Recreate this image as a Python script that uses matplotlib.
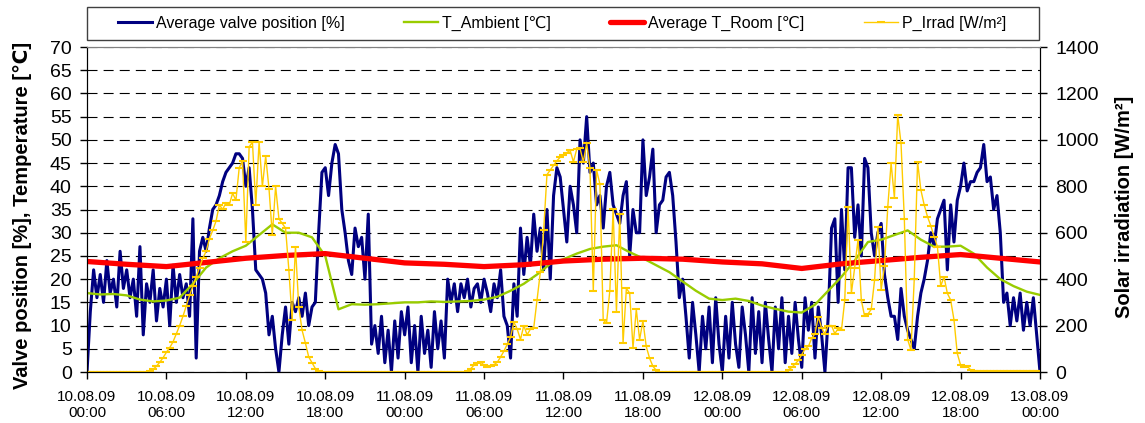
import numpy as np
import pandas as pd
import matplotlib
matplotlib.use("Agg")
import matplotlib.pyplot as plt
import matplotlib.dates as mdates
from matplotlib.patches import Rectangle

plt.rcParams['font.family'] = ['Liberation Sans', 'DejaVu Sans']

# 15 min samples, 10.08.09 00:00 .. 13.08.09 00:00
t_fine = pd.date_range("2009-08-10 00:00", "2009-08-13 00:00", freq="15min")
t_hour = pd.date_range("2009-08-10 00:00", "2009-08-13 00:00", freq="1h")
t_room = pd.date_range("2009-08-10 00:00", "2009-08-13 00:00", freq="3h")

# average valve position [%], one row per hour (4 samples)
valve_pos = [
    0, 13, 22, 16,   21, 15, 24, 17,   20, 14, 26, 18,   22, 16, 20, 12,
    27, 8, 19, 15,   22, 11, 18, 14,   20, 10, 23, 15,   21, 16, 19, 12,
    33, 3, 26, 29,   26, 31, 35, 36,   38, 41, 43, 44,   45, 47, 47, 46,
    40, 44, 35, 22,  21, 20, 17, 8,    12, 5, 0, 8,      14, 6, 15, 13,
    16, 12, 17, 10,  14, 15, 30, 43,   44, 38, 45, 49,   47, 35, 30, 24,
    21, 31, 27, 29,  20, 34, 6, 10,    4, 12, 2, 9,      0, 11, 3, 13,
    8, 14, 2, 10,    0, 12, 4, 9,      1, 13, 5, 11,     3, 20, 15, 19,
    13, 19, 16, 20,  14, 18, 19, 15,   20, 17, 13, 19,   16, 22, 12, 10,
    3, 19, 12, 31,   21, 29, 23, 34,   26, 31, 22, 35,   20, 38, 44, 42,
    35, 28, 40, 36,  30, 50, 45, 55,   43, 45, 36, 38,   31, 40, 43, 36,
    34, 32, 38, 41,  25, 35, 30, 30,   50, 38, 42, 48,   30, 36, 37, 42,
    43, 38, 28, 16,  20, 12, 3, 15,    8, 0, 12, 5,      14, 2, 16, 6,
    0, 12, 3, 15,    6, 1, 14, 8,      0, 16, 4, 13,     2, 15, 7, 0,
    14, 5, 16, 2,    12, 4, 15, 7,     1, 16, 9, 15,     3, 14, 8, 0,
    12, 31, 33, 15,  35, 22, 44, 44,   29, 36, 25, 46,   44, 30, 25, 30,
    32, 21, 16, 12,  12, 7, 18, 12,    9, 7, 5, 12,      17, 20, 24, 30,
    27, 33, 35, 37,  22, 36, 28, 37,   40, 45, 39, 41,   41, 43, 44, 49,
    41, 42, 35, 38,  30, 15, 17, 10,   16, 11, 17, 9,    15, 10, 16, 8,
    0,
]

# solar irradiation [W/m2], same 15 min samples
p_irrad = [
    0, 0, 0, 0,  0, 0, 0, 0,  0, 0, 0, 0,  0, 0, 0, 0,
    0, 0, 0, 3,  12, 25, 42, 62,  85, 105, 130, 165,  200, 240, 285, 330,
    370, 410, 450, 490,  520, 575, 610, 650,  720, 700, 730, 720,  770, 740, 880, 910,
    560, 970, 990, 720,  990, 800, 930, 790,  590, 800, 660, 640,  620, 440, 225, 540,
    280, 180, 125, 65,  40, 15, 3, 0,
    0, 0, 0, 0,  0, 0, 0, 0,  0, 0, 0, 0,  0, 0, 0, 0,  0, 0, 0, 0,
    0, 0, 0, 0,  0, 0, 0, 0,  0, 0, 0, 0,  0, 0, 0, 0,  0, 0, 0, 0,
    0, 0, 0, 5,  15, 30, 40, 42,  30, 23, 28, 32,  42, 65, 90, 120,
    150, 215, 185, 140,  200, 160, 185, 190,  310, 430, 610, 850,  870, 890, 910, 925,
    935, 945, 955, 905,  960, 963, 905, 985,  880, 350, 870, 810,  224, 210, 350, 700,
    260, 680, 125, 360,  340, 105, 270, 140,  220, 110, 60, 25,  8, 0, 0, 0,
    0, 0, 0, 0,  0, 0, 0, 0,  0, 0, 0, 0,  0, 0, 0, 0,
    0, 0, 0, 0,  0, 0, 0, 0,  0, 0, 0, 0,  0, 0, 0, 0,
    0, 0, 0, 0,  10, 20, 35, 50,  75, 100, 110, 145,  165, 238, 190, 165,
    200, 200, 165, 188,  180, 310, 712, 340,  450, 570, 310, 240,  250, 270, 395, 626,
    355, 455, 712, 900,  750, 1107, 985, 660,  140, 95, 400, 906,  784, 720, 669, 630,
    583, 540, 370, 410,  339, 310, 225, 80,  30, 22, 25, 10,  3, 4, 4, 4,
    4, 4, 4, 4,  4, 4, 4, 4,  4, 4, 4, 4,  4, 4, 4, 4,
    3,
]

# ambient temperature [C], hourly
t_ambient = [
    17.0, 16.7, 16.8, 16.5, 15.6, 15.2, 15.4, 16.0, 19.0, 22.5, 24.5, 26.0,
    27.2, 29.5, 31.8, 30.0, 30.0, 29.0, 25.0, 13.5, 14.6, 14.5, 14.6, 14.8,
    15.0, 15.0, 15.2, 15.1, 15.2, 15.3, 15.6, 16.2, 17.5, 19.0, 21.0, 23.3,
    24.3, 25.5, 26.5, 27.0, 27.3, 25.8, 24.5, 23.0, 21.5, 19.5, 17.5, 15.8,
    15.5, 15.8, 15.3, 14.3, 13.6, 13.0, 12.8, 14.5, 17.5, 20.5, 24.0, 28.0,
    28.5, 29.5, 30.5, 28.5, 27.0, 27.0, 27.2, 25.5, 22.5, 20.0, 18.5, 17.3,
    16.6,
]

# average room temperature [C], every 3 h
t_room_avg = [
    23.8, 23.2, 22.7, 23.6, 24.5, 25.1, 25.5, 24.5, 23.5, 23.2, 22.7, 23.1,
    23.9, 24.3, 24.5, 24.3, 23.7, 23.3, 22.3, 23.3, 24.0, 24.7, 25.3, 24.5,
    23.7,
]

W, H = 1145, 423
fig = plt.figure(figsize=(W / 100, H / 100), dpi=100)
ax = fig.add_axes([87 / W, 51 / H, 953 / W, 325 / H])
ax2 = ax.twinx()

l1, = ax.plot(t_fine, valve_pos, color="#000080", lw=2.2, zorder=3,
              label="Average valve position [%]")
l2, = ax.plot(t_hour, t_ambient, color="#99CC00", lw=1.7, zorder=4,
              label="T_Ambient [℃]")
l3, = ax.plot(t_room, t_room_avg, color="#FF0000", lw=3.8, zorder=5,
              solid_capstyle="round", label="Average T_Room [℃]")
l4, = ax2.plot(t_fine, p_irrad, color="#FFCC00", lw=1.0, marker="_",
               ms=6, mew=1.5, label="P_Irrad [W/m²]")

ax.set_xlim(t_fine[0], t_fine[-1])
ax.set_ylim(0, 70)
ax.set_yticks(np.arange(0, 71, 5))
ax2.set_ylim(0, 1400)
ax2.set_yticks(np.arange(0, 1401, 200))

ax.xaxis.set_major_locator(mdates.HourLocator(byhour=[0, 6, 12, 18]))
ax.xaxis.set_major_formatter(mdates.DateFormatter("%d.%m.%y\n%H:%M"))

ax.grid(axis="y", color="black", lw=0.8, linestyle=(0, (9, 5.5)))
ax.set_axisbelow(True)

ax.tick_params(axis="x", direction="out", length=5, width=1, labelsize=11, pad=8)
ax.tick_params(axis="y", direction="out", length=5, width=1, labelsize=14, pad=6)
ax2.tick_params(axis="y", direction="out", length=5, width=1, labelsize=14, pad=6)

for a in (ax, ax2):
    a.spines["top"].set_color("#808080")
    for s in ("left", "right", "bottom"):
        a.spines[s].set_color("black")

ax.set_ylabel("Valve position [%], Temperature [℃]", fontsize=14.5, fontweight="bold")
ax.yaxis.set_label_coords(-0.058, 0.483)
ax2.set_ylabel("Solar irradiation [W/m²]", fontsize=14.5, fontweight="bold", rotation=90)
ax2.yaxis.set_label_coords(1.079, 0.509)

# legend box across the top
fig.add_artist(Rectangle((87 / W, 1 - 40 / H), 952 / W, 33 / H, transform=fig.transFigure,
                         fill=False, edgecolor="#404040", lw=1))
fig.legend([l1, l2, l3, l4], [l.get_label() for l in (l1, l2, l3, l4)],
           loc="center left", bbox_to_anchor=(118 / W, 1 - 23.5 / H), ncol=4,
           frameon=False, fontsize=11.5, handlelength=2.1, handletextpad=0.25,
           columnspacing=3.75, borderaxespad=0, borderpad=0)

fig.savefig("out.png", dpi=100)
